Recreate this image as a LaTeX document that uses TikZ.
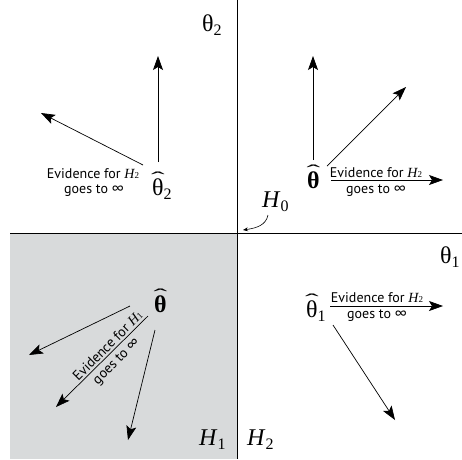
\documentclass[tikz,border=0pt]{standalone}
\usepackage{fontspec}
\setmainfont{Liberation Serif}
\newfontfamily\evfont{PT Sans}
\usetikzlibrary{arrows.meta}
\definecolor{regiongray}{RGB}{216,218,219}
\newcommand\mysb[1]{\raisebox{-0.2em}{\fontsize{16}{16}\selectfont #1}}
\newcommand\mycirc{\raisebox{0.42em}{\scalebox{1.7}[0.75]{ˆ}}}
\newcommand\hth{\ooalign{θ\cr\hidewidth\mycirc\hidewidth\cr}}
\newcommand\hthb{\ooalign{\bfseries θ\cr\hidewidth\mycirc\hidewidth\cr}}
\newcommand\evH[1]{{\rmfamily\itshape H}{\rmfamily\fontsize{9}{9}\selectfont #1}}
\tikzset{
  lab/.style={inner sep=0pt, font=\fontsize{24}{26}\selectfont, anchor=base west},
  ev/.style={inner sep=0pt, font=\evfont\fontsize{14}{16}\selectfont, anchor=base},
  axis/.style={line width=0.8pt},
  arr/.style={line width=0.7pt, -{Stealth[length=14pt,width=10pt,inset=3pt]}},
}
\begin{document}
\begin{tikzpicture}[x=1pt,y=-1pt]
\useasboundingbox (0,0) rectangle (462,459);
\fill[regiongray] (10,233) rectangle (237,459);
% axes
\coordinate (vt) at (237,0); \coordinate (vb) at (237,459);
\coordinate (hl) at (10,233); \coordinate (hr) at (462,233);
\draw[axis] (vt) -- (vb);
\draw[axis] (hl) -- (hr);
% axis labels
\node[lab] (th2axis) at (202,31) {θ\mysb{2}};
\node[lab] (th1axis) at (440,263) {θ\mysb{1}};
\node[lab] (H0) at (262,207) {\textit{H}\mysb{0}};
\node[lab] (H1) at (199,445) {\textit{H}\mysb{1}};
\node[lab] (H2) at (247,445) {\textit{H}\mysb{2}};
% H0 pointer
\coordinate (h0s) at (268,215); \coordinate (h0e) at (243,230);
\draw[line width=0.6pt, -{Stealth[length=5pt,width=4pt]}] (h0s) .. controls (266,225) and (257,228) .. (h0e);
% top-left quadrant
\node[lab] (thhat2) at (152,195) {\hth\mysb{2}};
\coordinate (a1s) at (158,162); \coordinate (a1e) at (158,56);
\coordinate (a2s) at (143,165); \coordinate (a2e) at (41,113);
\draw[arr] (a1s) -- (a1e);
\draw[arr] (a2s) -- (a2e);
\node[ev] (evTLa) at (93,178) {Evidence for \evH{2}};
\node[ev] (evTLb) at (94,193) {goes to ∞};
% top-right quadrant
\node[lab] (thbTR) at (307,188) {\hthb};
\coordinate (b1s) at (313,160); \coordinate (b1e) at (313,56);
\coordinate (b2s) at (327,166); \coordinate (b2e) at (406,87);
\coordinate (b3s) at (331,180); \coordinate (b3e) at (443,180);
\draw[arr] (b1s) -- (b1e);
\draw[arr] (b2s) -- (b2e);
\draw[arr] (b3s) -- (b3e);
\node[ev] (evTRa) at (376,177) {Evidence for \evH{2}};
\node[ev] (evTRb) at (376,193) {goes to ∞};
% bottom-right quadrant
\node[lab] (thhat1) at (306,317) {\hth\mysb{1}};
\coordinate (c1s) at (330,306); \coordinate (c1e) at (443,306);
\coordinate (c2s) at (333,325); \coordinate (c2e) at (395,420);
\draw[arr] (c1s) -- (c1e);
\draw[arr] (c2s) -- (c2e);
\node[ev] (evBRa) at (377,302) {Evidence for \evH{2}};
\node[ev] (evBRb) at (377,318) {goes to ∞};
% bottom-left quadrant
\node[lab] (thbBL) at (154,312) {\hthb};
\coordinate (d1s) at (130,306); \coordinate (d1e) at (29,355);
\coordinate (d2s) at (148,316); \coordinate (d2e) at (56,407);
\coordinate (d3s) at (155,330); \coordinate (d3e) at (128,440);
\draw[arr] (d1s) -- (d1e);
\draw[arr] (d2s) -- (d2e);
\draw[arr] (d3s) -- (d3e);
\node[ev, rotate=45] (evBLa) at (111,349) {Evidence for \evH{1}};
\node[ev, rotate=45] (evBLb) at (119,364) {goes to ∞};
\end{tikzpicture}
\end{document}
